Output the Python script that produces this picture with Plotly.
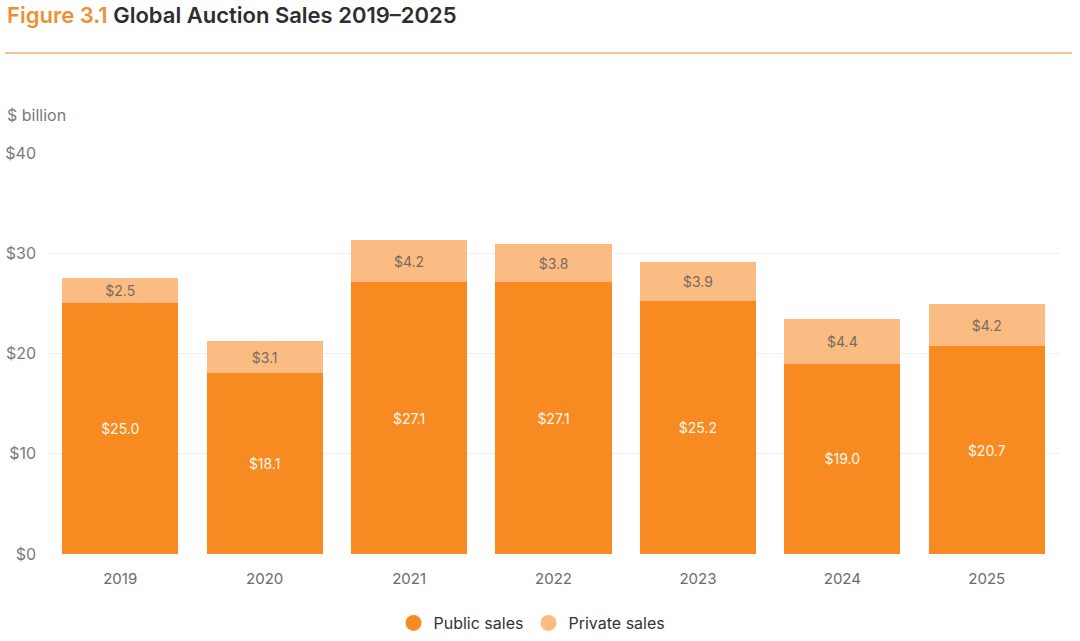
import plotly.graph_objects as go

years = ["2019", "2020", "2021", "2022", "2023", "2024", "2025"]
public_sales = [25.0, 18.1, 27.1, 27.1, 25.2, 19.0, 20.7]
private_sales = [2.5, 3.1, 4.2, 3.8, 3.9, 4.4, 4.2]
y_ticks = [0, 10, 20, 30, 40]
y_tick_labels = ["$0", "$10", "$20", "$30", "$40"]

PUBLIC = "#F78B22"
PRIVATE = "#FBBC83"
FONT = "Inter, Lato, sans-serif"

fig = go.Figure()
fig.add_trace(go.Bar(
    x=years, y=public_sales, name="Public sales", marker_color=PUBLIC,
    text=[f"${v:.1f}" for v in public_sales], textposition="inside",
    insidetextanchor="middle", textfont=dict(color="#FFF6EC", size=14, family=FONT),
    showlegend=False, marker_line_width=0,
))
fig.add_trace(go.Bar(
    x=years, y=private_sales, name="Private sales", marker_color=PRIVATE,
    text=[f"${v:.1f}" for v in private_sales], textposition="inside",
    insidetextanchor="middle", textfont=dict(color="#7A6A5E", size=14, family=FONT),
    showlegend=False, marker_line_width=0,
))
# legend entries with circle markers
for name, col in [("Public sales", PUBLIC), ("Private sales", PRIVATE)]:
    fig.add_trace(go.Scatter(x=[None], y=[None], mode="markers", name=name,
                             marker=dict(symbol="circle", size=18, color=col)))

L, R, T, B = 48, 21, 153, 87
pw, ph = 1080 - L - R, 641 - T - B

def px(xp):
    return (xp - L) / pw

def py(yp):
    return (641 - B - yp) / ph

fig.update_layout(
    width=1080, height=641,
    margin=dict(l=L, r=R, t=T, b=B, autoexpand=False),
    barmode="stack", bargap=0.195,
    plot_bgcolor="white", paper_bgcolor="white",
    font=dict(family=FONT, color="#6B6B6B", size=15),
    uniformtext=dict(mode="show", minsize=12),
    xaxis=dict(showgrid=False, showline=False, ticks="", automargin=False,
               tickfont=dict(size=15, color="#6B6B6B"), ticklabelstandoff=14),
    yaxis=dict(range=[0, 40], tickvals=y_ticks, ticktext=y_tick_labels, automargin=False,
               showgrid=True, gridcolor="#EFEFEF", gridwidth=1, zeroline=False,
               showline=False, ticks="", tickfont=dict(size=16, color="#7A7A7A"),
               ticklabelstandoff=11),
    legend=dict(orientation="h", x=px(532), xanchor="center", y=py(623), yanchor="middle",
                font=dict(size=16, color="#333333"), itemsizing="trace",
                traceorder="normal"),
    showlegend=True,
    annotations=[
        dict(xref="paper", yref="paper", x=px(5), y=py(15), xanchor="left", yanchor="middle",
             showarrow=False,
             text="<span style='color:#EE8F33'>Figure 3.1</span> <span style='color:#2E2E2E'>Global Auction Sales 2019\u20132025</span>",
             font=dict(size=22, family=FONT, weight=600)),
        dict(xref="paper", yref="paper", x=px(5), y=py(115), xanchor="left", yanchor="middle",
             showarrow=False, text="$ billion", font=dict(size=16, color="#7A7A7A", family=FONT)),
    ],
    shapes=[
        dict(type="line", xref="paper", yref="paper", x0=px(5), x1=px(1072), y0=py(53), y1=py(53),
             line=dict(color="#EDB072", width=1.5)),
    ],
)

fig.write_html("out.html", config={"displayModeBar": False},
               post_script="document.body.style.margin='0';document.body.style.overflow='hidden';")
